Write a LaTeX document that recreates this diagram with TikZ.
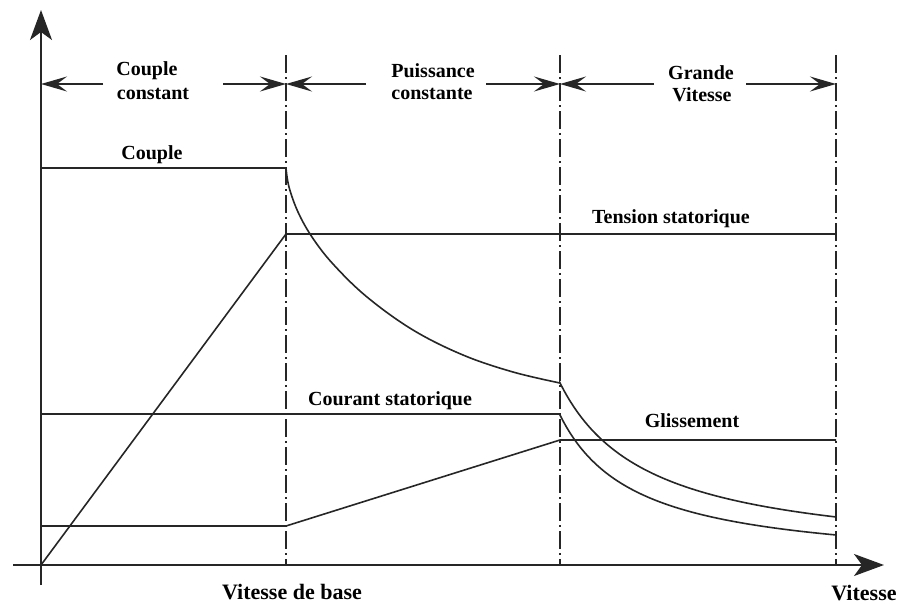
\documentclass[tikz,border=0pt]{standalone}
\usepackage{fontspec}
\setmainfont{Liberation Serif}
\usetikzlibrary{arrows.meta}

\begin{document}
\begin{tikzpicture}[x=1pt,y=-1pt,
  curve/.style={line width=1.6pt,black!85},
  axis/.style={line width=1.8pt,black!85,-{Stealth[length=30pt,width=22pt,inset=8pt]}},
  limit/.style={line width=1.6pt,black!85,dash pattern=on 18pt off 4pt on 2pt off 4pt},
  zonearrow/.style={line width=1.6pt,black!85,-{Stealth[length=26pt,width=15pt,inset=10pt]}},
  lbl/.style={font=\fontsize{20}{22}\selectfont\bfseries,anchor=base,inner sep=0pt},
  axlbl/.style={font=\fontsize{22}{24}\selectfont\bfseries,anchor=base,inner sep=0pt}]

\useasboundingbox (0,0) rectangle (900,603);

% axes
\coordinate (O) at (41,565);
\coordinate (ybot) at (41,585);
\coordinate (ytop) at (41,10);
\coordinate (xleft) at (13,565);
\coordinate (xright) at (884,565);
\draw[axis] (ybot) -- (ytop);
\draw[axis] (xleft) -- (xright);

% speed-range limits
\coordinate (b1t) at (286,55);  \coordinate (b1b) at (286,565);
\coordinate (b2t) at (560,55);  \coordinate (b2b) at (560,565);
\coordinate (b3t) at (836,55);  \coordinate (b3b) at (836,565);
\draw[limit] (b1t) -- (b1b);
\draw[limit] (b2t) -- (b2b);
\draw[limit] (b3t) -- (b3b);

% zone headings
\node[lbl] (z1a) at (147,75) {Couple};
\node[lbl] (z1b) at (153,99) {constant};
\node[lbl] (z2a) at (433,77) {Puissance};
\node[lbl] (z2b) at (432,99) {constante};
\node[lbl] (z3a) at (701,79) {Grande};
\node[lbl] (z3b) at (702,101) {Vitesse};

\coordinate (a0) at (41,84);
\coordinate (a1l) at (103,84);  \coordinate (a1r) at (223,84);
\coordinate (a1) at (286,84);
\coordinate (a2l) at (366,84);  \coordinate (a2r) at (486,84);
\coordinate (a2) at (560,84);
\coordinate (a3l) at (654,84);  \coordinate (a3r) at (746,84);
\coordinate (a3) at (836,84);
\draw[zonearrow] (a1l) -- (a0);
\draw[zonearrow] (a1r) -- (a1);
\draw[zonearrow] (a2l) -- (a1);
\draw[zonearrow] (a2r) -- (a2);
\draw[zonearrow] (a3l) -- (a2);
\draw[zonearrow] (a3r) -- (a3);

% torque: constant, then falling with speed
\coordinate (c0) at (41,168);
\coordinate (c1) at (286,168);
\coordinate (c2) at (560,383);
\coordinate (c3) at (836,517);
\draw[curve] (c0) -- (c1);
\draw[curve] plot[smooth,tension=0.6] coordinates {(c1) (289,187) (298,212) (312,237) (333,264) (367,297) (413,330) (463,355) (513,372) (c2)};
\draw[curve] (c2) -- plot[domain=560:836,samples=80] (\x,{565-(15644/(\x-471.6)+5.1)});
\node[lbl] (lc) at (152,159) {Couple};

% stator voltage
\coordinate (t1) at (286,234);
\coordinate (t2) at (836,234);
\draw[curve] (O) -- (t1) -- (t2);
\node[lbl] (lt) at (671,223) {Tension statorique};

% stator current
\coordinate (i0) at (41,414);
\coordinate (i1) at (560,414);
\coordinate (i2) at (836,535);
\draw[curve] (i0) -- (i1);
\draw[curve] (i1) -- plot[domain=560:836,samples=80] (\x,{565-(11586/(\x-484.2)-2.9)});
\node[lbl] (li) at (390,405) {Courant statorique};

% slip
\coordinate (g0) at (41,526);
\coordinate (g1) at (286,526);
\coordinate (g2) at (560,440);
\coordinate (g3) at (836,440);
\draw[curve] (g0) -- (g1) -- (g2) -- (g3);
\node[lbl] (lg) at (692,427) {Glissement};

% axis labels
\node[axlbl] (lb) at (292,599) {Vitesse de base};
\node[axlbl] (lv) at (864,600) {Vitesse};

\end{tikzpicture}
\end{document}
